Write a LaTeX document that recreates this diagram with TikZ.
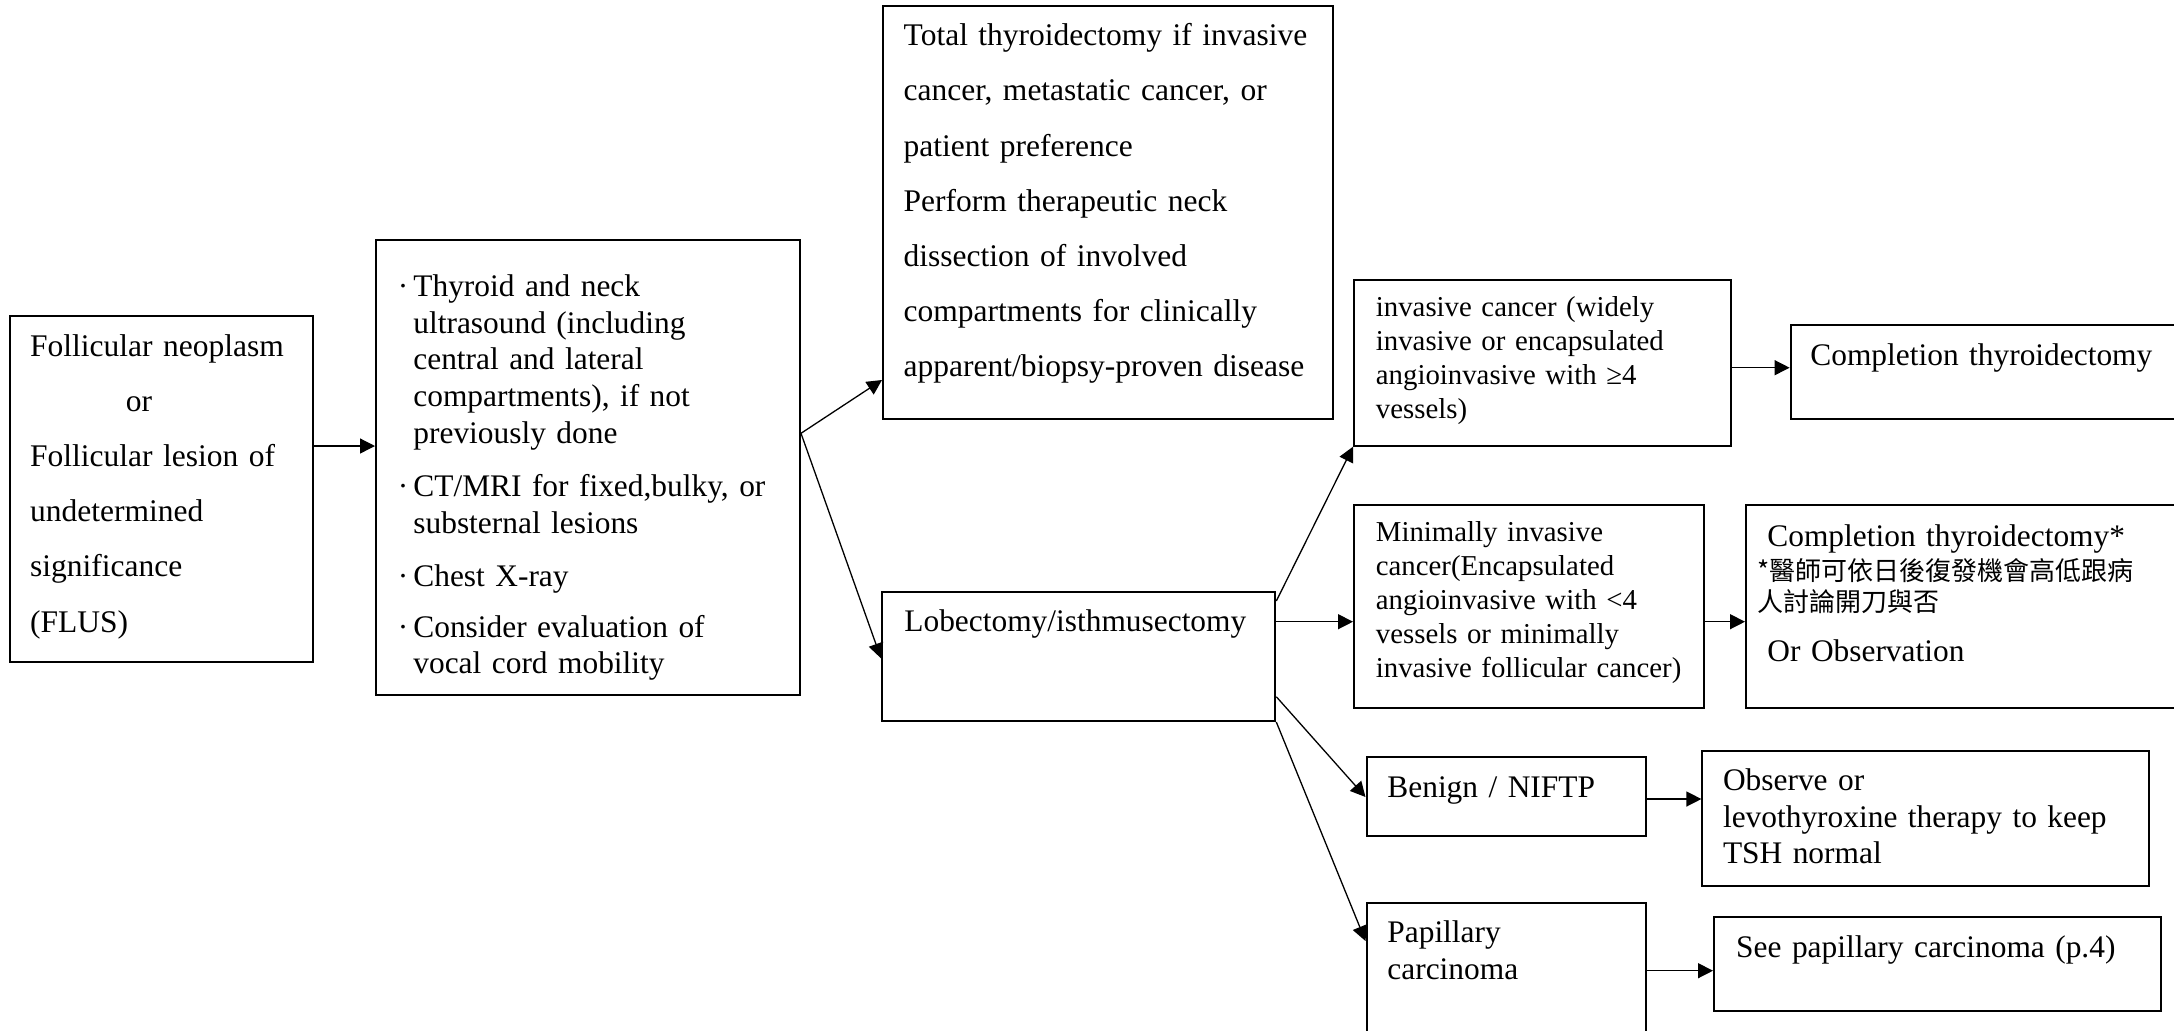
\documentclass[tikz,border=0pt]{standalone}
\usepackage{fontspec}
\setmainfont{Liberation Serif}
\newfontfamily\cjkfont{Noto Sans CJK TC}
\usetikzlibrary{fit,arrows.meta}

% font sizes (picture unit: 1 = 0.5pt)
\newcommand\txA{\fontsize{15.75pt}{27.6pt}\selectfont}
\newcommand\txB{\fontsize{15.7pt}{18.3pt}\selectfont}
\newcommand\txS{\fontsize{14.4pt}{17pt}\selectfont}
\newcommand\txC{\cjkfont\fontsize{13pt}{16pt}\selectfont}

\begin{document}
\begin{tikzpicture}[x=0.5pt,y=-0.5pt,
  box/.style={draw,line width=1pt,inner sep=0pt},
  lbl/.style={anchor=base west,inner sep=0pt,text width=260pt,align=left},
  arr/.style={line width=0.65pt,-{Triangle[length=7.5pt,width=7.5pt]}}]

\useasboundingbox (0,0) rectangle (2174,1030);
\fill[white] (0,0) rectangle (2174,1030);
\clip (0,0) rectangle (2174,1030);

% boxes
\node[box,fit={(9.7,316) (313,661.5)}] (A) {};
\node[box,fit={(376,240) (800,695)}] (B) {};
\node[box,fit={(883,6) (1332.5,418.7)}] (C) {};
\node[box,fit={(882,591.7) (1275.3,721)}] (D) {};
\node[box,fit={(1354,280) (1731.3,445.7)}] (E) {};
\node[box,fit={(1790.6,325) (2200,419)}] (F) {};
\node[box,fit={(1354,505) (1704,707.5)}] (G) {};
\node[box,fit={(1746,505) (2200,707.5)}] (H) {};
\node[box,fit={(1366.5,757) (1645.9,836)}] (I) {};
\node[box,fit={(1702.4,751) (2149.2,885.7)}] (J) {};
\node[box,fit={(1366.5,902.7) (1645.9,1060)}] (K) {};
\node[box,fit={(1714,916.7) (2160.8,1010.7)}] (L) {};

% texts
\node[lbl,font=\txA] (tA) at (29.8,356) {Follicular neoplasm\\\hspace*{47.8pt}or\\Follicular lesion of\\undetermined\\significance\\(FLUS)};

\node[lbl,font=\txB] (bB1) at (397.5,296.7) {·};
\node[lbl,font=\txB] (tB1) at (413,296.7) {Thyroid and neck\\ultrasound (including\\central and lateral\\compartments), if not\\previously done};
\node[lbl,font=\txB] (bB2) at (397.5,496.7) {·};
\node[lbl,font=\txB] (tB2) at (413,496.7) {CT/MRI for fixed,bulky, or\\substernal lesions};
\node[lbl,font=\txB] (bB3) at (397.5,586) {·};
\node[lbl,font=\txB] (tB3) at (413,586) {Chest X-ray};
\node[lbl,font=\txB] (bB4) at (397.5,637.3) {·};
\node[lbl,font=\txB] (tB4) at (413,637.3) {Consider evaluation of\\vocal cord mobility};

\node[lbl,font=\txA] (tC) at (903.3,45.7) {Total thyroidectomy if invasive\\cancer, metastatic cancer, or\\patient preference\\Perform therapeutic neck\\dissection of involved\\compartments for clinically\\apparent/biopsy-proven disease};

\node[lbl,font=\txB] (tD) at (904,631.7) {Lobectomy/isthmusectomy};

\node[lbl,font=\txS] (tE) at (1375.5,316.7) {invasive cancer (widely\\invasive or encapsulated\\angioinvasive with ≥4\\vessels)};
\node[lbl,font=\txB] (tF) at (1810,365) {Completion thyroidectomy};

\node[lbl,font=\txS] (tG) at (1375.5,541.7) {Minimally invasive\\cancer(Encapsulated\\angioinvasive with <4\\vessels or minimally\\invasive follicular cancer)};

\node[lbl,font=\txB] (tH1) at (1767,546) {Completion thyroidectomy*};
\node[lbl,font=\txC] (tH2) at (1757,580) {*醫師可依日後復發機會高低跟病};
\node[lbl,font=\txC] (tH3) at (1757,611.5) {人討論開刀與否};
\node[lbl,font=\txB] (tH4) at (1767,661.7) {Or Observation};

\node[lbl,font=\txB] (tI) at (1387,797.3) {Benign / NIFTP};
\node[lbl,font=\txB] (tJ) at (1722.6,790.7) {Observe or\\levothyroxine therapy to keep\\TSH normal};
\node[lbl,font=\txB] (tK) at (1387,942.7) {Papillary\\carcinoma};
\node[lbl,font=\txB] (tL) at (1735.8,957.3) {See papillary carcinoma (p.4)};

% connector heights
\coordinate (yAB) at (0,446);
\coordinate (yB) at (0,433.3);
\coordinate (yC) at (0,380);
\coordinate (yD) at (0,658.3);
\coordinate (yDE) at (0,601);
\coordinate (yEF) at (0,367.7);
\coordinate (yDG) at (0,621.7);
\coordinate (yDI) at (0,696.7);
\coordinate (yI) at (0,797);
\coordinate (yIJ) at (0,799);
\coordinate (yK) at (0,941);
\coordinate (yKL) at (0,970.7);

% connectors
\draw[arr] (A.east |- yAB) -- (B.west |- yAB);
\draw[arr] (B.east |- yB) -- (C.west |- yC);
\draw[arr] (B.east |- yB) -- (D.west |- yD);
\draw[arr] (D.east |- yDE) -- (E.south west);
\draw[arr] (D.east |- yDG) -- (G.west |- yDG);
\draw[arr] (D.east |- yDI) -- (I.west |- yI);
\draw[arr] (D.south east) -- (K.west |- yK);
\draw[arr] (E.east |- yEF) -- (F.west |- yEF);
\draw[arr] (G.east |- yDG) -- (H.west |- yDG);
\draw[arr] (I.east |- yIJ) -- (J.west |- yIJ);
\draw[arr] (K.east |- yKL) -- (L.west |- yKL);
\end{tikzpicture}
\end{document}
